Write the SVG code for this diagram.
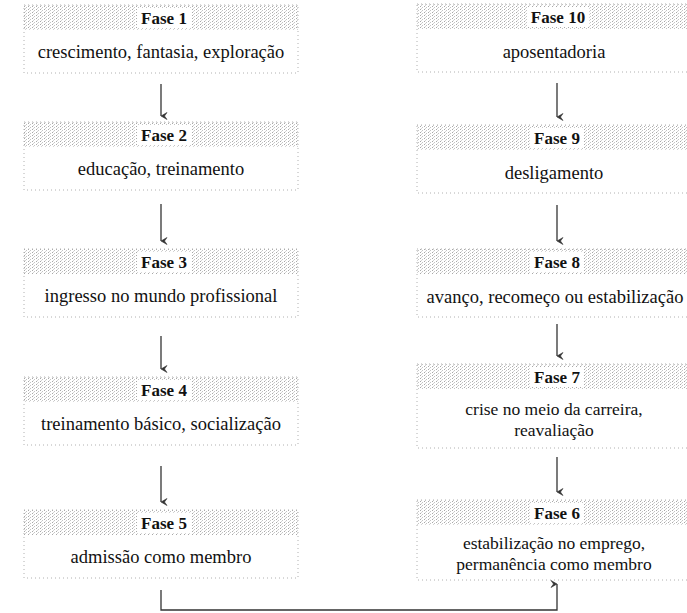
<svg xmlns="http://www.w3.org/2000/svg" width="687" height="613" viewBox="0 0 687 613">
<defs>
<pattern id="dots" width="4" height="3" patternUnits="userSpaceOnUse">
<rect x="0" y="0" width="1" height="1" fill="#a8a8a8"/>
<rect x="2" y="1" width="1" height="1" fill="#c4c4c4"/>
<rect x="1" y="2" width="1" height="1" fill="#d4d4d4"/>
</pattern>
<marker id="ah" markerWidth="8" markerHeight="8" refX="4" refY="7" orient="auto-start-reverse" markerUnits="userSpaceOnUse">
<path d="M0.5,1 L4,7 L7.5,1 L4,3.5 Z" fill="#333" stroke="#333" stroke-width="0.6"/>
</marker>
</defs>
<style>
.band{fill:url(#dots);}
.box{fill:none;stroke:#b0b0b0;stroke-width:1;stroke-dasharray:1 3;}
.lab{font-weight:bold;font-size:17px;fill:#111;text-anchor:middle;}
.lbg{fill:#fff;}
.txt{font-size:18.5px;fill:#111;text-anchor:middle;}
.txt2{font-size:17.5px;fill:#111;text-anchor:middle;}
.con{fill:none;stroke:#333;stroke-width:1.3;}
</style>
<rect width="687" height="613" fill="#fff"/>

<g font-family="'Liberation Serif', 'DejaVu Serif', serif">
<g id="fase1">
<rect class="band" x="24" y="5" width="274" height="25"/>
<rect class="box" x="24" y="5" width="274" height="68"/>
<rect class="lbg" x="137" y="8" width="54" height="20"/>
<text class="lab" x="164" y="24">Fase 1</text>
<text class="txt" x="161" y="58">crescimento, fantasia, exploração</text>
</g>
<g id="fase2">
<rect class="band" x="24" y="122" width="274" height="25"/>
<rect class="box" x="24" y="122" width="274" height="68"/>
<rect class="lbg" x="137" y="125" width="54" height="20"/>
<text class="lab" x="164" y="141">Fase 2</text>
<text class="txt" x="161" y="175">educação, treinamento</text>
</g>
<g id="fase3">
<rect class="band" x="24" y="249" width="274" height="25"/>
<rect class="box" x="24" y="249" width="274" height="68"/>
<rect class="lbg" x="137" y="252" width="54" height="20"/>
<text class="lab" x="164" y="268">Fase 3</text>
<text class="txt" x="161" y="302">ingresso no mundo profissional</text>
</g>
<g id="fase4">
<rect class="band" x="24" y="377" width="274" height="25"/>
<rect class="box" x="24" y="377" width="274" height="68"/>
<rect class="lbg" x="137" y="380" width="54" height="20"/>
<text class="lab" x="164" y="396">Fase 4</text>
<text class="txt" x="161" y="430">treinamento básico, socialização</text>
</g>
<g id="fase5">
<rect class="band" x="24" y="510" width="274" height="25"/>
<rect class="box" x="24" y="510" width="274" height="68"/>
<rect class="lbg" x="137" y="513" width="54" height="20"/>
<text class="lab" x="164" y="529">Fase 5</text>
<text class="txt" x="161" y="563">admissão como membro</text>
</g>

<g id="fase10">
<rect class="band" x="417" y="4" width="270" height="25"/>
<rect class="box" x="417" y="4" width="275" height="68"/>
<rect class="lbg" x="527" y="7" width="62" height="20"/>
<text class="lab" x="558" y="23">Fase 10</text>
<text class="txt" x="554" y="58">aposentadoria</text>
</g>
<g id="fase9">
<rect class="band" x="417" y="125" width="270" height="25"/>
<rect class="box" x="417" y="125" width="275" height="68"/>
<rect class="lbg" x="530" y="128" width="54" height="20"/>
<text class="lab" x="557" y="144">Fase 9</text>
<text class="txt" x="554" y="179">desligamento</text>
</g>
<g id="fase8">
<rect class="band" x="417" y="249" width="270" height="25"/>
<rect class="box" x="417" y="249" width="275" height="68"/>
<rect class="lbg" x="530" y="252" width="54" height="20"/>
<text class="lab" x="557" y="268">Fase 8</text>
<text class="txt" x="555" y="303">avanço, recomeço ou estabilização</text>
</g>
<g id="fase7">
<rect class="band" x="417" y="364" width="270" height="25"/>
<rect class="box" x="417" y="364" width="275" height="84"/>
<rect class="lbg" x="530" y="367" width="54" height="20"/>
<text class="lab" x="557" y="383">Fase 7</text>
<text class="txt2" x="554" y="415">crise no meio da carreira,</text>
<text class="txt2" x="554" y="436">reavaliação</text>
</g>
<g id="fase6">
<rect class="band" x="417" y="500" width="270" height="25"/>
<rect class="box" x="417" y="500" width="275" height="80"/>
<rect class="lbg" x="530" y="503" width="54" height="20"/>
<text class="lab" x="557" y="519">Fase 6</text>
<text class="txt2" x="554" y="549">estabilização no emprego,</text>
<text class="txt2" x="554" y="570">permanência como membro</text>
</g>
</g>

<g id="connectors">
<line class="con" x1="161" y1="84" x2="161" y2="116" marker-end="url(#ah)"/>
<line class="con" x1="161" y1="204" x2="161" y2="241" marker-end="url(#ah)"/>
<line class="con" x1="161" y1="336" x2="161" y2="369" marker-end="url(#ah)"/>
<line class="con" x1="161" y1="466" x2="161" y2="502" marker-end="url(#ah)"/>
<line class="con" x1="557" y1="83" x2="557" y2="117" marker-end="url(#ah)"/>
<line class="con" x1="557" y1="205" x2="557" y2="241" marker-end="url(#ah)"/>
<line class="con" x1="557" y1="324" x2="557" y2="356" marker-end="url(#ah)"/>
<line class="con" x1="557" y1="457" x2="557" y2="492" marker-end="url(#ah)"/>
<path class="con" d="M161,590 L161,610 L557,610 L557,584" marker-end="url(#ah)"/>
</g>
</svg>
